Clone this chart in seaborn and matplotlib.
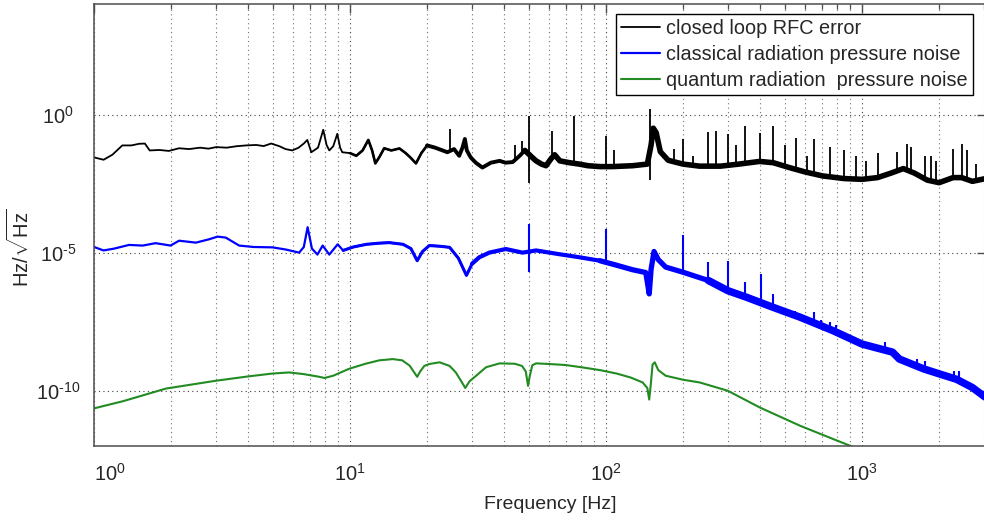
import numpy as np
import pandas as pd
import matplotlib
matplotlib.use("Agg")
import matplotlib.pyplot as plt
import seaborn as sns

# ---- closed loop RFC error: broadband floor (Hz, Hz/sqrtHz) ----
rfc_freq = [1.0, 1.09, 1.18, 1.29, 1.4, 1.5, 1.58, 1.65, 1.8, 1.96, 2.15, 2.35, 2.6, 2.8,
            3.0, 3.3, 3.6, 3.93, 4.3, 4.6, 4.92, 5.3, 5.6, 5.95, 6.3, 6.6, 6.81, 7.06, 7.5,
            7.86, 8.1, 8.3, 8.6, 8.92, 9.15, 9.33, 10.0, 10.58, 11.2, 11.79, 12.2, 12.56,
            13.0, 13.6, 14.5, 15.6, 16.5, 17.2, 18.1, 19.0, 20.0, 21.5, 23.0, 24.0, 25.5,
            26.7, 27.5, 28.1, 28.6, 29.6, 31.0, 32.9, 35.5, 38.4, 40.5, 43.2, 46.0, 48.2,
            51.5, 53.3, 56.0, 58.3, 61.0, 63.0, 66.0, 72.0, 78.6, 85.0, 94.6, 105.8, 127.0,
            145.0, 150.0, 153.0, 157.0, 163.0, 175.0, 200.0, 232.0, 280.0, 330.0, 398.0,
            450.0, 520.0, 600.0, 700.0, 850.0, 1000.0, 1150.0, 1300.0, 1450.0, 1600.0,
            1800.0, 2000.0, 2268.0, 2450.0, 2700.0, 3100.0]
rfc_amp = [2.8e-2, 2.3e-2, 3.5e-2, 7.6e-2, 7.6e-2, 8.7e-2, 8.9e-2, 5.0e-2, 5.2e-2, 4.8e-2,
           6.0e-2, 5.6e-2, 6.3e-2, 5.8e-2, 6.6e-2, 6.3e-2, 7.1e-2, 7.6e-2, 7.9e-2, 7.2e-2,
           8.9e-2, 7.1e-2, 5.6e-2, 5.0e-2, 6.3e-2, 8.9e-2, 1.2e-1, 4.3e-2, 6.3e-2, 2.8e-1,
           7.9e-2, 5.0e-2, 7.1e-2, 2.0e-1, 6.3e-2, 4.3e-2, 4.0e-2, 3.2e-2, 5.0e-2, 1.2e-1,
           5.0e-2, 1.7e-2, 2.8e-2, 6.0e-2, 5.0e-2, 5.9e-2, 4.0e-2, 2.8e-2, 1.7e-2, 4.0e-2,
           7.6e-2, 6.3e-2, 5.0e-2, 4.3e-2, 5.6e-2, 3.2e-2, 6.3e-2, 1.3e-1, 5.0e-2, 2.8e-2,
           1.8e-2, 1.2e-2, 1.8e-2, 2.1e-2, 1.8e-2, 1.9e-2, 3.2e-2, 5.0e-2, 2.8e-2, 2.1e-2,
           1.6e-2, 1.4e-2, 2.5e-2, 3.5e-2, 2.1e-2, 1.8e-2, 1.6e-2, 1.4e-2, 1.3e-2, 1.3e-2,
           1.4e-2, 1.6e-2, 7.9e-2, 3.2e-1, 2.2e-1, 4.5e-2, 2.2e-2, 1.6e-2, 1.35e-2, 1.35e-2,
           1.6e-2, 2.0e-2, 1.8e-2, 1.2e-2, 8.3e-3, 6.0e-3, 4.8e-3, 4.5e-3, 5.2e-3, 7.6e-3,
           1.1e-2, 7.6e-3, 4.2e-3, 3.4e-3, 5.2e-3, 5.2e-3, 3.8e-3, 5.0e-3]
# narrow lines on the RFC error (line frequency, tip value)
rfc_line_freq = [24.5, 44.0, 47.0, 50.0, 50.0, 61.7, 75.0, 100.0, 107.0, 148.6, 148.6,
                 183.5, 200.0, 218.0, 251.0, 268.0, 299.0, 323.0, 350.0, 398.0, 449.0,
                 498.0, 550.0, 608.0, 652.0, 748.0, 854.0, 950.0, 1040.0, 1152.0, 1365.0,
                 1492.0, 1560.0, 1760.0, 1855.0, 1944.0, 2268.0, 2465.0, 2560.0, 2800.0]
rfc_line_amp = [3.1e-1, 7.9e-2, 1.1e-1, 9.1e-1, 3.2e-3, 2.6e-1, 9.1e-1, 1.7e-1, 5.0e-2,
                1.6, 4.1e-3, 5.6e-2, 1.3e-1, 3.2e-2, 2.3e-1, 2.6e-1, 1.9e-1, 7.6e-2,
                3.7e-1, 2.1e-1, 3.7e-1, 7.6e-2, 1.4e-1, 3.2e-2, 1.3e-1, 6.6e-2, 5.0e-2,
                3.2e-2, 2.1e-2, 4.0e-2, 4.3e-2, 8.7e-2, 6.6e-2, 3.2e-2, 3.2e-2, 2.1e-2,
                5.8e-2, 8.7e-2, 5.0e-2, 1.6e-2]

# ---- classical radiation pressure noise ----
crp_freq = [1.0, 1.09, 1.2, 1.37, 1.55, 1.74, 1.99, 2.15, 2.5, 2.8, 3.04, 3.27, 3.69, 4.2,
            4.98, 5.6, 6.33, 6.6, 6.83, 7.1, 7.46, 7.82, 8.3, 8.95, 9.4, 10.3, 11.6, 13.0,
            14.25, 16.1, 17.3, 18.3, 19.2, 20.4, 22.5, 24.5, 26.5, 28.5, 30.0, 32.0, 35.0,
            40.6, 47.2, 53.3, 65.0, 78.6, 94.6, 110.0, 127.0, 143.0, 147.5, 150.0, 154.0,
            160.0, 171.0, 200.0, 251.0, 299.0, 355.0, 449.0, 573.0, 770.0, 1000.0, 1315.0,
            1400.0, 1740.0, 2000.0, 2340.0, 2700.0, 3100.0]
crp_amp = [1.6e-5, 1.2e-5, 1.4e-5, 1.9e-5, 1.8e-5, 2.2e-5, 1.8e-5, 2.7e-5, 2.3e-5, 3.0e-5,
           3.8e-5, 3.5e-5, 1.8e-5, 1.6e-5, 1.55e-5, 1.3e-5, 1.0e-5, 1.6e-5, 8.3e-5, 1.4e-5,
           8.5e-6, 1.8e-5, 8.5e-6, 2.0e-5, 1.2e-5, 1.6e-5, 2.0e-5, 2.2e-5, 2.3e-5, 2.0e-5,
           1.4e-5, 5.1e-6, 1.1e-5, 1.8e-5, 1.7e-5, 1.55e-5, 6.3e-6, 1.5e-6, 4.0e-6, 6.8e-6,
           1.0e-5, 1.35e-5, 1.0e-5, 1.2e-5, 8.9e-6, 6.8e-6, 5.1e-6, 3.5e-6, 2.4e-6, 1.9e-6,
           3.2e-7, 2.5e-6, 1.1e-5, 5.6e-6, 3.0e-6, 1.95e-6, 9.8e-7, 4.2e-7, 2.4e-7, 1.05e-7,
           4.6e-8, 1.5e-8, 4.9e-9, 2.5e-9, 1.4e-9, 6.2e-10, 4.1e-10, 2.6e-10, 1.3e-10, 5.0e-11]
crp_line_freq = [50.0, 50.0, 100.0, 200.0, 251.0, 299.0, 350.0, 403.0, 449.0, 545.0, 650.0,
                 694.0, 748.0, 790.0, 1230.0, 1640.0, 1760.0, 2290.0, 2400.0]
crp_line_amp = [1.1e-4, 1.95e-6, 7.2e-5, 4.2e-5, 4.5e-6, 5.1e-6, 8.5e-7, 1.7e-6, 3.2e-7,
                7.9e-8, 6.9e-8, 3.5e-8, 3.2e-8, 2.5e-8, 5.6e-9, 1.4e-9, 1.2e-9, 5.0e-10,
                5.0e-10]

# ---- quantum radiation pressure noise ----
qrp_freq = [1.0, 1.3, 1.91, 2.99, 4.0, 4.98, 5.78, 6.6, 7.58, 7.95, 8.6, 9.9, 11.5, 13.0,
            14.7, 16.0, 17.1, 18.0, 18.3, 18.8, 19.5, 20.4, 22.4, 24.5, 25.9, 27.2, 28.2,
            29.3, 31.1, 34.0, 38.4, 44.0, 47.0, 48.6, 49.6, 50.3, 51.5, 53.3, 60.0, 69.8,
            80.0, 94.6, 110.0, 125.0, 139.0, 145.0, 147.5, 149.5, 152.0, 155.0, 160.0,
            171.0, 200.0, 232.0, 299.0, 398.0, 573.0, 770.0, 950.0]
qrp_amp = [2.3e-11, 4.2e-11, 1.2e-10, 2.3e-10, 3.3e-10, 4.2e-10, 4.6e-10, 4.0e-10, 3.2e-10,
           2.9e-10, 3.5e-10, 6.2e-10, 9.5e-10, 1.26e-9, 1.4e-9, 1.26e-9, 8.1e-10, 4.0e-10,
           3.2e-10, 5.0e-10, 7.9e-10, 9.3e-10, 1.07e-9, 7.9e-10, 4.6e-10, 2.2e-10, 1.26e-10,
           2.2e-10, 3.5e-10, 7.1e-10, 9.8e-10, 9.5e-10, 7.9e-10, 5.0e-10, 1.5e-10, 3.2e-10,
           8.3e-10, 9.8e-10, 9.3e-10, 8.5e-10, 7.1e-10, 5.6e-10, 4.2e-10, 3.0e-10, 2.0e-10,
           1.26e-10, 4.8e-11, 1.6e-10, 8.9e-10, 1.07e-9, 5.6e-10, 3.5e-10, 2.5e-10, 2.0e-10,
           1.0e-10, 2.5e-11, 5.4e-12, 1.8e-12, 8.3e-13]

series_labels = ["closed loop RFC error",
                 "classical radiation pressure noise",
                 "quantum radiation  pressure noise"]
x_ticks = [1, 10, 100, 1000]
x_tick_labels = [r"$10^{0}$", r"$10^{1}$", r"$10^{2}$", r"$10^{3}$"]
y_ticks = [1e-10, 1e-5, 1]
y_tick_labels = [r"$10^{\text{-}10}$", r"$10^{\text{-}5}$", r"$10^{0}$"]

# ---- style ----
sns.set_style("white")
plt.rcParams["font.family"] = ["Liberation Sans", "DejaVu Sans"]
plt.rcParams["mathtext.fontset"] = "custom"
plt.rcParams["mathtext.rm"] = "Liberation Sans"
plt.rcParams["mathtext.it"] = "Liberation Sans:italic"
plt.rcParams["mathtext.bf"] = "Liberation Sans:bold"

BLACK, BLUE, GREEN = "#000000", "#0000ff", "#228b22"

fig = plt.figure(figsize=(9.84, 5.25), dpi=100)
ax = fig.add_axes([94 / 984, 79 / 525, 892 / 984, 442 / 525])
ax.set_xscale("log")
ax.set_yscale("log")


def draw_series(freq, amp, color, lw, label=None, bands=(), line_freq=None, line_amp=None,
                line_lw=1.2):
    df = pd.DataFrame({"f": freq, "a": amp})
    sns.lineplot(data=df, x="f", y="a", ax=ax, color=color, lw=lw, label=label,
                 estimator=None, sort=False, legend=False)
    # thicker trace where the spectrum is a dense noise band
    for lo, hi, blw in bands:
        part = df[(df["f"] >= lo) & (df["f"] <= hi)]
        sns.lineplot(data=part, x="f", y="a", ax=ax, color=color, lw=blw,
                     estimator=None, sort=False, legend=False,
                     solid_capstyle="round", solid_joinstyle="round")
    if line_freq is not None:
        lf = np.asarray(line_freq)
        base = 10 ** np.interp(np.log10(lf), np.log10(freq), np.log10(amp))
        ax.vlines(lf, base, line_amp, color=color, lw=line_lw)


draw_series(rfc_freq, rfc_amp, BLACK, 1.3, series_labels[0],
            bands=[(10, 22, 1.9), (20, 50, 2.8), (48, 3200, 4.0)],
            line_freq=rfc_line_freq, line_amp=rfc_line_amp, line_lw=1.3)
draw_series(crp_freq, crp_amp, BLUE, 1.6, series_labels[1],
            bands=[(9, 32, 2.2), (30, 110, 3.0), (94, 300, 3.8), (250, 3200, 5.4)],
            line_freq=crp_line_freq, line_amp=crp_line_amp, line_lw=1.5)
draw_series(qrp_freq, qrp_amp, GREEN, 1.5, series_labels[2])

ax.set_xlim(1, 3050)
ax.set_ylim(1e-12, 1e4)

# ticks
ax.set_xticks(x_ticks, x_tick_labels)
ax.set_xticks([m * 10 ** e for e in range(0, 4) for m in range(2, 10) if m * 10 ** e < 3050],
              minor=True)
ax.set_yticks(y_ticks, y_tick_labels)
ax.yaxis.set_minor_locator(matplotlib.ticker.NullLocator())
ax.tick_params(which="both", direction="in", top=True, right=True, color="0.3")
ax.tick_params(which="major", length=6.5, width=1.0)
ax.tick_params(which="minor", length=3.5, width=0.9)
ax.tick_params(axis="x", which="major", labelsize=14.5, pad=12)
ax.tick_params(axis="y", which="major", labelsize=14.5, pad=26)
for lbl in ax.get_yticklabels():
    lbl.set_horizontalalignment("center")
ax.get_xticklabels()[0].set_horizontalalignment("left")

# grid
ax.set_axisbelow(True)
ax.grid(which="major", axis="both", linestyle=(0, (1, 3)), color="0.25", lw=0.8)
ax.grid(which="minor", axis="x", linestyle=(0, (1, 3)), color="0.45", lw=0.8)

for sp in ax.spines.values():
    sp.set_color("0.3")
    sp.set_linewidth(1.1)

ax.set_xlabel("Frequency [Hz]", fontsize=14)
ax.set_ylabel(r"Hz/$\sqrt{\mathregular{Hz}}$", fontsize=14.5)
ax.xaxis.set_label_coords(0.511, -0.113)
ax.yaxis.set_label_coords(-0.069, 0.449)

handles, labels = ax.get_legend_handles_labels()
leg = ax.legend(handles, labels, loc="upper right",
                bbox_to_anchor=(973 / 984, 1 - 14 / 525), bbox_transform=fig.transFigure,
                fontsize=14.3, frameon=True, fancybox=False, framealpha=1,
                edgecolor="black", borderaxespad=0, borderpad=0.25, handlelength=2.0,
                handletextpad=0.3, labelspacing=0.35)
leg.get_frame().set_linewidth(1.0)

fig.savefig("out.png", dpi=100)
